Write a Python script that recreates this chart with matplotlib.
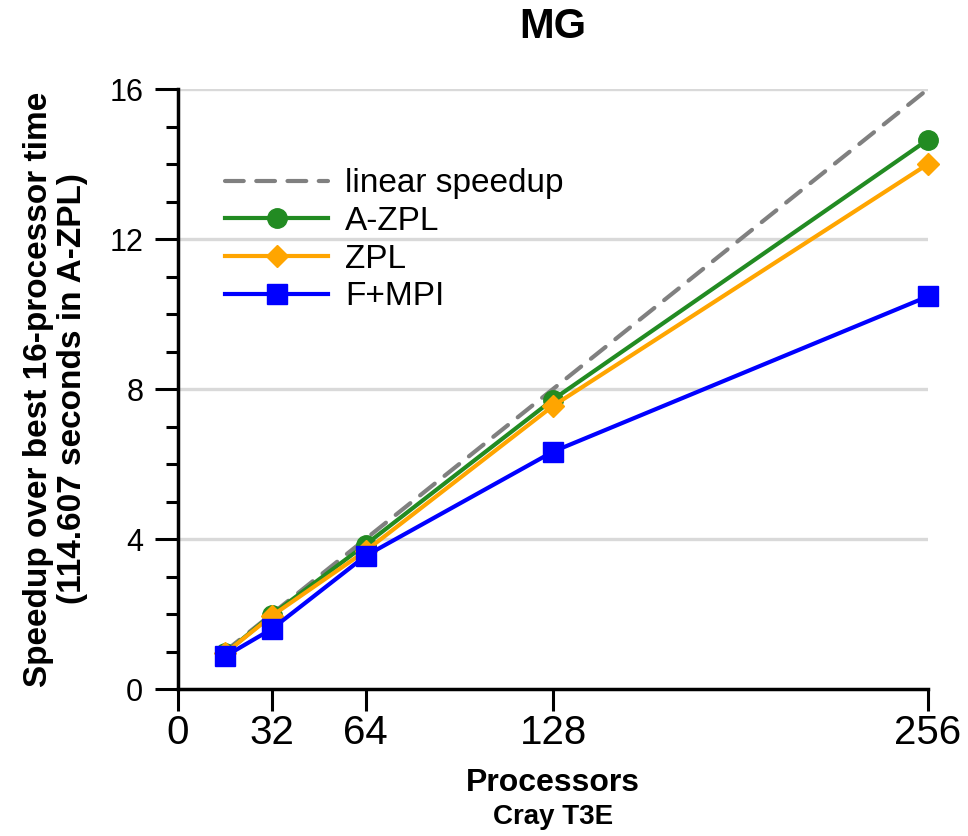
import matplotlib
matplotlib.use("Agg")
import matplotlib.pyplot as plt
from matplotlib.ticker import MultipleLocator

plt.rcParams['font.family'] = ['Liberation Sans', 'DejaVu Sans']

# datos
processors = [16, 32, 64, 128, 256]
linear = [1, 2, 4, 8, 16]
a_zpl = [0.95, 1.98, 3.85, 7.72, 14.65]
zpl = [0.95, 1.95, 3.68, 7.55, 14.0]
f_mpi = [0.87, 1.6, 3.55, 6.33, 10.47]

x_ticks = [0, 32, 64, 128, 256]
y_ticks = [0, 4, 8, 12, 16]

fig = plt.figure(figsize=(9.68, 8.36), dpi=100)
ax = fig.add_axes([0.1839, 0.1758, 0.7748, 0.7177])

# lineas de cuadricula
for yv in y_ticks[1:]:
    ax.axhline(yv, color='#d9d9d9', linewidth=2.4, zorder=0)

ax.plot(processors, linear, color='#808080', linewidth=3, linestyle=(0, (4.5, 3)),
        dash_capstyle='round', label='linear speedup', zorder=2, clip_on=False)
ax.plot(processors, a_zpl, color='#228B22', linewidth=3, marker='o', markersize=14,
        label='A-ZPL', zorder=3, clip_on=False)
ax.plot(processors, zpl, color='#FFA500', linewidth=3, marker='D', markersize=11,
        label='ZPL', zorder=4, clip_on=False)
ax.plot(processors, f_mpi, color='#0000FF', linewidth=3, marker='s', markersize=14,
        label='F+MPI', zorder=5, clip_on=False)

ax.set_xlim(0, 256)
ax.set_ylim(0, 16)
ax.set_xticks(x_ticks)
ax.set_yticks(y_ticks)
ax.yaxis.set_minor_locator(MultipleLocator(1))

for side in ['top', 'right']:
    ax.spines[side].set_visible(False)
for side in ['left', 'bottom']:
    ax.spines[side].set_linewidth(2.5)

ax.tick_params(axis='x', which='major', length=16, width=2.2, labelsize=29, pad=2)
ax.tick_params(axis='y', which='major', length=16.5, width=2.2, labelsize=22, pad=8.5)
ax.tick_params(axis='y', which='minor', length=8.5, width=2.2)

ax.set_ylabel('Speedup over best 16-processor time\n(114.607 seconds in A-ZPL)',
              fontsize=24, fontweight='bold', linespacing=1.15, labelpad=15)

fig.text(0.5713, 0.968, 'MG', fontsize=30, fontweight='bold', ha='center', va='center')
fig.text(0.5713, 0.063, 'Processors', fontsize=23, fontweight='bold', ha='center', va='center')
fig.text(0.5713, 0.023, 'Cray T3E', fontsize=20, fontweight='bold', ha='center', va='center')

ax.legend(loc='upper left', bbox_to_anchor=(0.045, 0.89), frameon=False, fontsize=24,
          handlelength=3.1, handletextpad=0.5, labelspacing=0.2, borderaxespad=0)

plt.savefig('out.png', dpi=100)
